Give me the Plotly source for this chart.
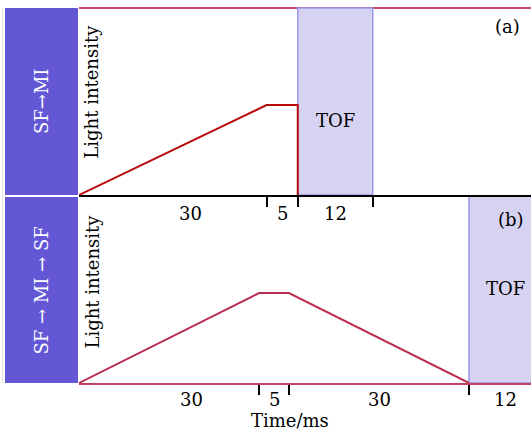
import plotly.graph_objects as go

# ---- data (time in ms, intensity in arbitrary units) ----
seg_a = [30, 5, 12]                 # SF->MI durations
seg_b = [30, 5, 30, 12]             # SF->MI->SF durations
t_a = [0, 30, 35, 35]
i_a = [0, 1, 1, 0]
t_b = [0, 30, 35, 65]
i_b = [0, 1, 1, 0]
tof_a = [35, 47]
tof_b = [65, 77]
row_labels = ["SF→MI", "SF → MI → SF"]
panel_tags = ["(a)", "(b)"]

FONT = "DejaVu Serif"
PURPLE = "#6357d6"
TOF_FILL = "rgb(214,211,242)"
TOF_LINE = "rgb(155,152,236)"

fig = go.Figure()
fig.add_trace(go.Scatter(x=t_a, y=i_a, mode="lines", line=dict(color="#b80a0a", width=2),
                         xaxis="x", yaxis="y", showlegend=False, hoverinfo="skip"))
fig.add_trace(go.Scatter(x=t_b, y=i_b, mode="lines", line=dict(color="#b82f52", width=2),
                         xaxis="x2", yaxis="y2", showlegend=False, hoverinfo="skip"))


def cum(seg):
    out = [0]
    for s in seg:
        out.append(out[-1] + s)
    return out


bounds_a = cum(seg_a)
bounds_b = cum(seg_b)

top_dom = [0.5013, 1.0]
bot_dom = [0.0, 0.4987]

fig.update_layout(
    width=531, height=432,
    margin=dict(l=79, r=0, t=8, b=49),
    plot_bgcolor="white", paper_bgcolor="white",
    font=dict(family=FONT, size=18, color="black"),
    xaxis=dict(domain=[0, 1], range=[0, 452 / 6.25], anchor="y",
               showline=True, linecolor="black", linewidth=2,
               tickmode="array", tickvals=bounds_a[1:], ticks="outside",
               ticklen=10, tickwidth=2, tickcolor="black",
               showticklabels=False, showgrid=False, zeroline=False),
    yaxis=dict(domain=top_dom, range=[0, 2.08], anchor="x",
               showline=False, showticklabels=False, ticks="",
               showgrid=False, zeroline=False),
    xaxis2=dict(domain=[0, 1], range=[0, 452 / 6.0], anchor="y2",
                showline=True, linecolor="#c0405e", linewidth=2,
                tickmode="array", tickvals=bounds_b[1:4], ticks="outside",
                ticklen=10, tickwidth=2, tickcolor="black",
                showticklabels=False, showgrid=False, zeroline=False),
    yaxis2=dict(domain=bot_dom, range=[0, 2.08], anchor="x2",
                showline=False, showticklabels=False, ticks="",
                showgrid=False, zeroline=False),
)

shapes = []
# top border of panel (a)
shapes.append(dict(type="line", xref="x domain", yref="y domain", x0=0, x1=1, y0=1, y1=1,
                   line=dict(color="#c8486a", width=2), layer="below"))
# TOF windows
shapes.append(dict(type="rect", xref="x", yref="y domain", x0=tof_a[0], x1=tof_a[1], y0=0, y1=1,
                   fillcolor=TOF_FILL, line=dict(color=TOF_LINE, width=1.5), layer="below"))
shapes.append(dict(type="rect", xref="x2", yref="y2 domain", x0=tof_b[0], x1=tof_b[1], y0=0, y1=1,
                   fillcolor=TOF_FILL, line=dict(color=TOF_LINE, width=1.5), layer="below"))
# row label boxes
shapes.append(dict(type="rect", xref="paper", yref="paper", x0=-0.1637, x1=-0.0022,
                   y0=0.5013, y1=1.0, fillcolor=PURPLE, line=dict(width=0), layer="below"))
shapes.append(dict(type="rect", xref="paper", yref="paper", x0=-0.1637, x1=-0.0022,
                   y0=0.0, y1=0.496, fillcolor=PURPLE, line=dict(width=0), layer="below"))
shapes.append(dict(type="line", xref="paper", yref="paper", x0=-0.169, x1=-0.169,
                   y0=0.0, y1=1.0, line=dict(color="#e2e2e2", width=1), layer="below"))
fig.update_layout(shapes=shapes)

C = dict(showarrow=False, xanchor="center", yanchor="middle")
ann = []
# duration labels
for k, s in enumerate(seg_a):
    mid = (bounds_a[k] + bounds_a[k + 1]) / 2
    ann.append(dict(x=mid, y=0.4533, xref="x", yref="paper", text=str(s),
                    xshift=18 if k == 0 else 0, **C))
for k, s in enumerate(seg_b):
    mid = (bounds_b[k] + bounds_b[k + 1]) / 2
    ann.append(dict(x=mid, y=-0.0453, xref="x2", yref="paper", text=str(s),
                    xshift=22 if k == 0 else 0, **C))
ann.append(dict(x=(290 - 79) / 452, y=-0.1013, xref="paper", yref="paper", text="Time/ms", **C))
# TOF labels
ann.append(dict(x=sum(tof_a) / 2, y=0.6987, xref="x", yref="paper", text="TOF", **C))
ann.append(dict(x=sum(tof_b) / 2, y=0.2533, xref="x2", yref="paper", text="TOF", **C))
# panel tags
ann.append(dict(x=0.947, y=0.952, xref="paper", yref="paper", text=panel_tags[0], **C))
ann.append(dict(x=0.956, y=0.437, xref="paper", yref="paper", text=panel_tags[1], **C))
# y labels
ann.append(dict(x=0.0288, y=0.777, xref="paper", yref="paper", text="Light intensity",
                textangle=-90, **C))
ann.append(dict(x=0.0288, y=0.2707, xref="paper", yref="paper", text="Light intensity",
                textangle=-90, **C))
# row labels in boxes
ann.append(dict(x=-0.083, y=0.7507, xref="paper", yref="paper", text=row_labels[0],
                textangle=-90, font=dict(color="white", size=18), **C))
ann.append(dict(x=-0.083, y=0.248, xref="paper", yref="paper", text=row_labels[1],
                textangle=-90, font=dict(color="white", size=18), **C))
fig.update_layout(annotations=ann)

fig.write_html("out.html", config={"displayModeBar": False},
               post_script="document.body.style.margin='0px';")
